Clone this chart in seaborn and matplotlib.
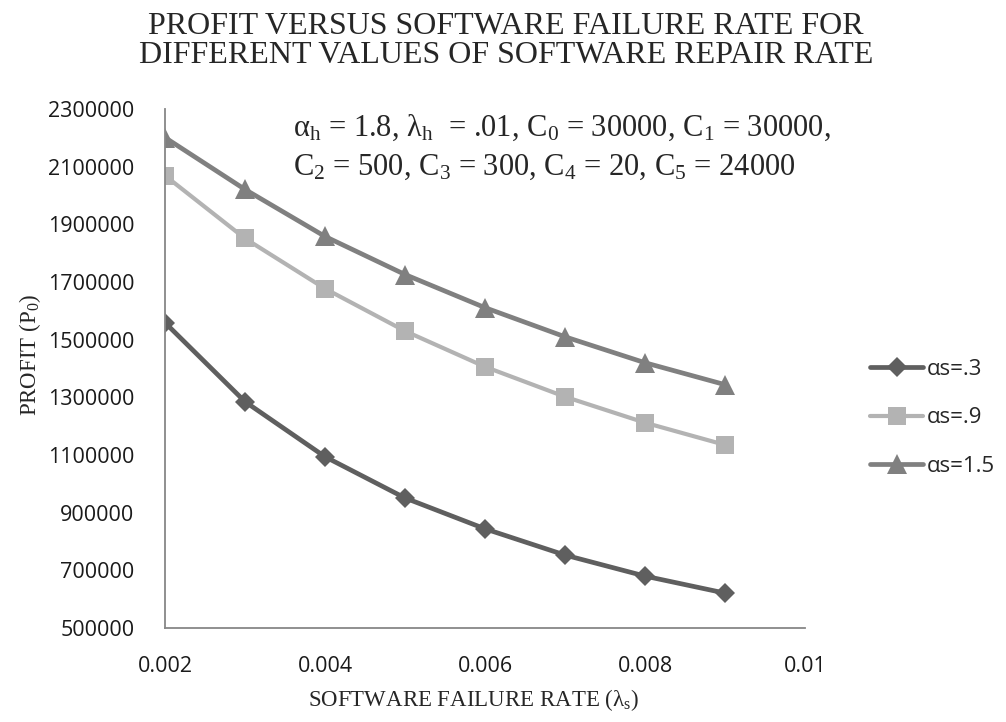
import matplotlib
matplotlib.use("Agg")
import matplotlib.pyplot as plt
import seaborn as sns
import pandas as pd
from matplotlib.lines import Line2D

# ---- data ----
failure_rate = [0.002, 0.003, 0.004, 0.005, 0.006, 0.007, 0.008, 0.009]
profit_as_03 = [1559000, 1285000, 1094000, 951000, 844000, 753000, 680000, 621000]
profit_as_09 = [2069000, 1851000, 1677000, 1530000, 1406000, 1302000, 1212000, 1135000]
profit_as_15 = [2201000, 2021000, 1858000, 1726000, 1611000, 1510000, 1420000, 1344000]
series_names = ["αs=.3", "αs=.9", "αs=1.5"]
x_ticks = [0.002, 0.004, 0.006, 0.008, 0.01]
x_tick_labels = ["0.002", "0.004", "0.006", "0.008", "0.01"]
y_ticks = [500000, 700000, 900000, 1100000, 1300000, 1500000, 1700000, 1900000, 2100000, 2300000]

rows = []
for name, vals in zip(series_names, [profit_as_03, profit_as_09, profit_as_15]):
    for xv, yv in zip(failure_rate, vals):
        rows.append({"rate": xv, "profit": yv, "series": name})
df = pd.DataFrame(rows)

sns.set_theme(style="white")
plt.rcParams["font.family"] = ["Open Sans", "DejaVu Sans"]
plt.rcParams["mathtext.fontset"] = "custom"
plt.rcParams["mathtext.rm"] = "Liberation Serif"
plt.rcParams["mathtext.it"] = "Liberation Serif:italic"

fig = plt.figure(figsize=(10.06, 7.22), dpi=100)
ax = fig.add_axes([165 / 1006, 1 - 628 / 722, 640 / 1006, (628 - 109) / 722])

palette = {"αs=.3": "#5f5f5f", "αs=.9": "#b3b3b3", "αs=1.5": "#808080"}
markers = {"αs=.3": "D", "αs=.9": "s", "αs=1.5": "^"}
msizes = {"D": 10, "s": 13, "^": 14}

sns.lineplot(data=df, x="rate", y="profit", hue="series", style="series",
             palette=palette, markers=markers, dashes=False, ax=ax,
             linewidth=3.4, markersize=12, markeredgewidth=0, legend=False)

for line, name in zip(ax.get_lines(), series_names):
    line.set_markersize(msizes[markers[name]])
    if markers[name] == "s":
        line.set_linewidth(3.0)

ax.set_xlim(0.002, 0.01)
ax.set_ylim(500000, 2300000)
ax.set_xticks(x_ticks)
ax.set_xticklabels(x_tick_labels)
ax.set_yticks(y_ticks)
ax.set_yticklabels([str(v) for v in y_ticks])
ax.tick_params(axis="both", length=0, labelsize=15.5, colors="#1a1a1a")
ax.tick_params(axis="x", pad=20)
ax.tick_params(axis="y", pad=22)
ax.set_xlabel("")
ax.set_ylabel("")
for s in ["top", "right"]:
    ax.spines[s].set_visible(False)
for s in ["left", "bottom"]:
    ax.spines[s].set_color("#878787")
    ax.spines[s].set_linewidth(1.3)
ax.grid(False)

# legend
handles = [Line2D([], [], color=palette[n], marker=markers[n],
                  linewidth=3.0 if markers[n] == "s" else 3.4,
                  markersize=msizes[markers[n]], markeredgewidth=0)
           for n in series_names]
fig.legend(handles, series_names, loc="center left", bbox_to_anchor=(870 / 1006, 1 - 418 / 722),
           frameon=False, fontsize=16, handlelength=2.4, handletextpad=0.15,
           labelspacing=1.25, borderpad=0, borderaxespad=0)

serif = ["Liberation Serif", "DejaVu Serif"]
fig.text(0.503, 1 - 41 / 722, "PROFIT VERSUS SOFTWARE FAILURE RATE FOR\nDIFFERENT VALUES OF SOFTWARE REPAIR RATE",
         ha="center", va="center", fontsize=23, family=serif, linespacing=1.02)

fig.text(293 / 1006, 1 - 128 / 722,
         r"α$_\mathrm{h}$ = 1.8, λ$_\mathrm{h}$  = .01, C$_0$ = 30000, C$_1$ = 30000,",
         ha="left", va="center", fontsize=22, family=serif)
fig.text(293 / 1006, 1 - 167 / 722,
         r"C$_2$ = 500, C$_3$ = 300, C$_4$ = 20, C$_5$ = 24000",
         ha="left", va="center", fontsize=22, family=serif)

fig.text(30 / 1006, 1 - 355 / 722, r"PROFIT (P$_0$)", rotation=90, ha="center", va="center",
         fontsize=16.5, family=serif)
fig.text(474 / 1006, 1 - 700 / 722, r"SOFTWARE FAILURE RATE (λ$_\mathrm{s}$)", ha="center", va="center",
         fontsize=16.5, family=serif)

fig.savefig("out.png", dpi=100, facecolor="white")
